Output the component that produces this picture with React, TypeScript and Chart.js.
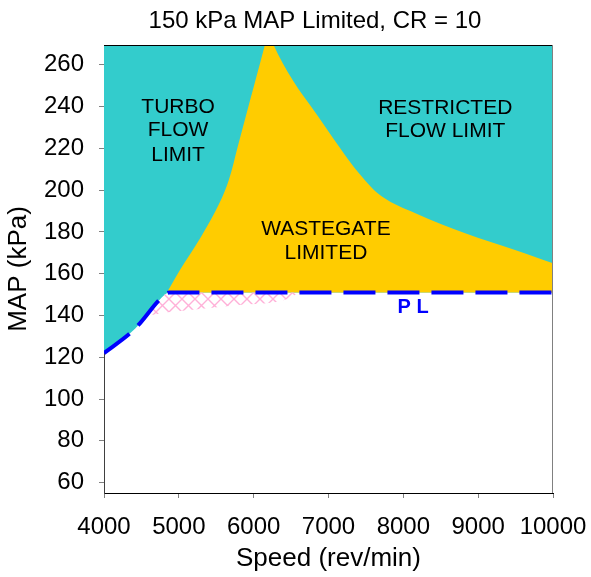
import React, { useEffect, useRef } from 'react';
import { Chart, registerables } from 'chart.js';

Chart.register(...registerables);

const FONT = "Arial, 'Liberation Sans', Helvetica, sans-serif";

const titleText = '150 kPa MAP Limited, CR = 10';
const xTitle = 'Speed (rev/min)';
const yTitle = 'MAP (kPa)';

const xTicks = [4000, 5000, 6000, 7000, 8000, 9000, 10000];
const yTicks = [60, 80, 100, 120, 140, 160, 180, 200, 220, 240, 260];

// Part-load (PL) boundary, dashed blue
const plSpeed = [4000, 4356, 4480, 4747, 4870, 10000];
const plMap = [122, 131.7, 136.2, 147.7, 151, 151];

// Wastegate-limited region upper boundary (turbo flow limit, then restricted flow limit)
const wgSpeed = [4840, 5013, 5295, 5540, 5667, 5785, 5904, 6023, 6153, 6205, 6260, 6525, 6836, 7147, 7413, 7724, 8169, 8836, 9503, 10000];
const wgMap = [151, 161.7, 177.6, 193.6, 204.7, 220.6, 236.6, 252.5, 270, 278, 270, 252.5, 236.6, 220.6, 207.9, 196.7, 188.8, 179.2, 171.2, 165];

// Cross-hatched region lower edge
const hatchSpeed = [4560, 4750, 5150, 5800, 6400, 6620];
const hatchMap = [139.6, 141, 142.6, 145, 147.3, 151];

// Region labels (placed in data coordinates)
const regionLabels = [
  { text: 'TURBO', speed: 4990, map: 239.7 },
  { text: 'FLOW', speed: 4990, map: 228.8 },
  { text: 'LIMIT', speed: 4990, map: 216.8 },
  { text: 'RESTRICTED', speed: 8560, map: 239.4 },
  { text: 'FLOW LIMIT', speed: 8560, map: 228.0 },
  { text: 'WASTEGATE', speed: 6965, map: 181.2 },
  { text: 'LIMITED', speed: 6965, map: 169.7 },
];
const plLabel = { text: 'P L', speed: 8131, map: 143.7 };

const pts = (xs: number[], ys: number[]) => xs.map((x, i) => ({ x, y: ys[i] }));

const noPad = (s: any) => {
  s.paddingLeft = 0;
  s.paddingRight = 0;
  s.paddingTop = 0;
  s.paddingBottom = 0;
};

export default function App() {
  const ref = useRef<HTMLCanvasElement>(null);

  useEffect(() => {
    const canvas = ref.current!;
    const pc = document.createElement('canvas');
    pc.width = 13;
    pc.height = 13;
    const p = pc.getContext('2d')!;
    p.strokeStyle = '#ffb0d8';
    p.lineWidth = 1.4;
    p.beginPath();
    p.moveTo(-1, -1); p.lineTo(14, 14);
    p.moveTo(14, -1); p.lineTo(-1, 14);
    p.stroke();
    const pattern = canvas.getContext('2d')!.createPattern(pc, 'repeat');

    const overlay = {
      id: 'overlay',
      afterDatasetsDraw(chart: any) {
        const { ctx, scales } = chart;
        ctx.save();
        ctx.fillStyle = '#000';
        ctx.font = `21px ${FONT}`;
        ctx.textAlign = 'center';
        ctx.textBaseline = 'middle';
        for (const l of regionLabels) {
          ctx.fillText(l.text, scales.x.getPixelForValue(l.speed), scales.y.getPixelForValue(l.map));
        }
        ctx.fillStyle = '#0000ff';
        ctx.font = `bold 20px ${FONT}`;
        ctx.fillText(plLabel.text, scales.x.getPixelForValue(plLabel.speed), scales.y.getPixelForValue(plLabel.map));
        ctx.restore();
      },
      afterDraw(chart: any) {
        const { ctx, chartArea } = chart;
        ctx.save();
        ctx.lineWidth = 1;
        ctx.strokeStyle = '#000';
        ctx.beginPath();
        ctx.moveTo(chartArea.left, chartArea.top + 0.5);
        ctx.lineTo(chartArea.right, chartArea.top + 0.5);
        ctx.stroke();
        ctx.strokeStyle = '#808080';
        ctx.beginPath();
        ctx.moveTo(chartArea.right - 0.5, chartArea.top);
        ctx.lineTo(chartArea.right - 0.5, chartArea.bottom);
        ctx.stroke();
        ctx.fillStyle = '#000';
        ctx.font = `24px ${FONT}`;
        ctx.textAlign = 'center';
        ctx.textBaseline = 'alphabetic';
        ctx.fillText(titleText, 315, 27.5);
        ctx.restore();
      },
    };

    const chart = new Chart(canvas, {
      type: 'line',
      data: {
        datasets: [
          {
            label: 'PL',
            data: pts(plSpeed, plMap),
            borderColor: '#0000ff',
            borderWidth: 4,
            borderDash: [32, 12],
            pointRadius: 0,
            fill: false,
            cubicInterpolationMode: 'monotone',
          },
          {
            label: 'hatch',
            data: pts(hatchSpeed, hatchMap),
            borderWidth: 0,
            borderColor: 'rgba(0,0,0,0)',
            backgroundColor: pattern as any,
            pointRadius: 0,
            fill: '-1',
            cubicInterpolationMode: 'monotone',
          },
          {
            label: 'wastegate',
            data: pts(wgSpeed, wgMap),
            borderWidth: 0,
            borderColor: 'rgba(0,0,0,0)',
            backgroundColor: '#ffcc00',
            pointRadius: 0,
            fill: { value: 151 },
            tension: 0.35,
          },
          {
            label: 'flow limit',
            data: pts(plSpeed, plMap),
            borderWidth: 0,
            borderColor: 'rgba(0,0,0,0)',
            backgroundColor: '#33cccc',
            pointRadius: 0,
            fill: 'end',
            cubicInterpolationMode: 'monotone',
          },
        ],
      },
      options: {
        animation: false,
        responsive: false,
        devicePixelRatio: 1,
        layout: { padding: { top: 45, right: 38, bottom: 0, left: 0 } },
        plugins: {
          legend: { display: false },
          title: { display: false },
          tooltip: { enabled: false },
        },
        scales: {
          x: {
            type: 'linear',
            min: 4000,
            max: 10000,
            afterFit: (s: any) => { s.height = 84; noPad(s); },
            afterBuildTicks: (s: any) => { s.ticks = xTicks.map((v) => ({ value: v })); },
            grid: { drawOnChartArea: false, drawTicks: true, tickLength: 5, color: '#808080' },
            border: { display: true, color: '#000', width: 1 },
            ticks: {
              color: '#000',
              font: { family: FONT, size: 24 },
              padding: 15,
              maxRotation: 0,
              autoSkip: false,
              callback: (v: any) => String(v),
            },
            title: { display: true, text: xTitle, color: '#000', font: { family: FONT, size: 26 }, padding: { top: 0, bottom: 3 } },
          },
          y: {
            type: 'linear',
            min: 55,
            max: 269.5,
            afterFit: (s: any) => { s.width = 104; noPad(s); },
            afterBuildTicks: (s: any) => { s.ticks = yTicks.map((v) => ({ value: v })); },
            grid: { drawOnChartArea: false, drawTicks: true, tickLength: 5, color: '#808080' },
            border: { display: true, color: '#404040', width: 1 },
            ticks: {
              color: '#000',
              font: { family: FONT, size: 24 },
              padding: 15,
              autoSkip: false,
              callback: (v: any) => String(v),
            },
            title: { display: true, text: yTitle, color: '#000', font: { family: FONT, size: 26 }, padding: { top: 3, bottom: 0 } },
          },
        },
      },
      plugins: [overlay],
    });

    return () => chart.destroy();
  }, []);

  return (
    <canvas
      ref={ref}
      width={591}
      height={577}
      style={{ position: 'absolute', left: 0, top: 0, display: 'block' }}
    />
  );
}
